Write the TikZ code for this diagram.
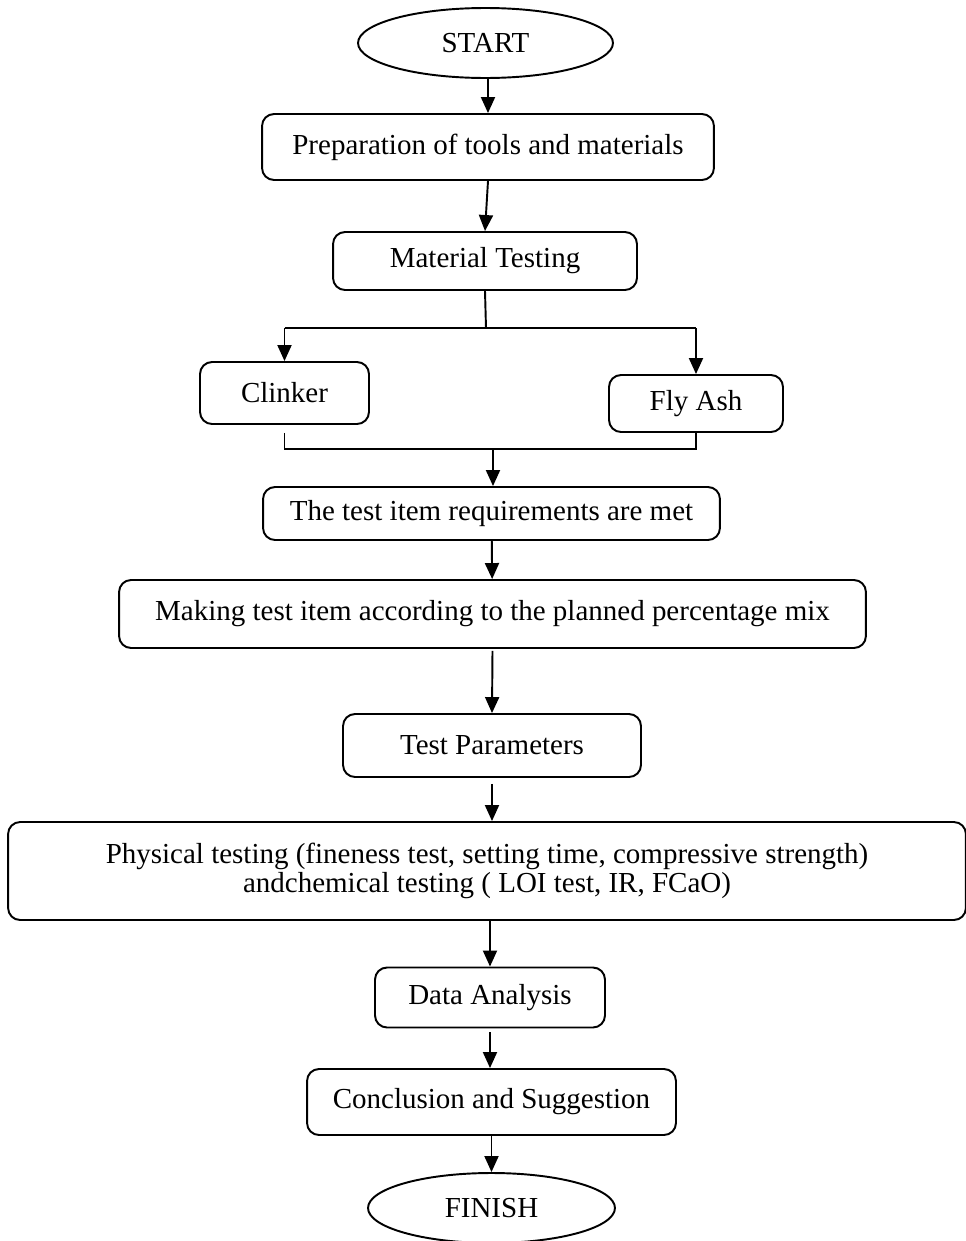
\documentclass[tikz,border=0pt]{standalone}
\usepackage{fontspec}
\setmainfont{Liberation Serif}
\usetikzlibrary{arrows.meta, positioning, shapes.geometric}

\begin{document}
\begin{tikzpicture}[x=0.02cm, y=-0.02cm,
    font=\fontsize{16.5}{19}\selectfont,
    blk/.style={draw, line width=1.1pt, rounded corners=0.24cm, inner sep=0pt, align=center},
    term/.style={draw, ellipse, line width=1.1pt, inner sep=0pt},
    arr/.style={line width=1.1pt, -{Triangle[width=0.28cm, length=0.32cm]}}]
    \useasboundingbox (0,0) rectangle (965,1241);

    \node[term, minimum width=5.1cm, minimum height=1.4cm] (start) at (485.5,43) {START};
    \node[blk, minimum width=9.04cm, minimum height=1.32cm] (prep) at (488,147) {Preparation of tools and materials};
    \node[blk, minimum width=6.08cm, minimum height=1.16cm] (mat) at (485,261) {Material Testing};
    \node[blk, minimum width=3.38cm, minimum height=1.24cm] (clinker) at (284.5,393) {Clinker};
    \node[blk, minimum width=3.48cm, minimum height=1.14cm] (flyash) at (696,403.5) {Fly Ash};
    \node[blk, minimum width=9.14cm, minimum height=1.06cm] (req) at (491.5,513.5) {The test item requirements are met};
    \node[blk, minimum width=14.94cm, minimum height=1.36cm] (mix) at (492.5,614) {Making test item according to the planned percentage mix};
    \node[blk, minimum width=5.96cm, minimum height=1.26cm] (param) at (492,745.5) {Test Parameters};
    \node[blk, minimum width=19.16cm, minimum height=1.96cm, font=\fontsize{16.5}{16.5}\selectfont] (phys) at (487,871)
        {Physical testing (fineness test, setting time, compressive strength)\\andchemical testing ( LOI test, IR, FCaO)};
    \node[blk, minimum width=4.6cm, minimum height=1.2cm] (data) at (490,997.5) {Data Analysis};
    \node[blk, minimum width=7.38cm, minimum height=1.32cm] (concl) at (491.5,1102) {Conclusion and Suggestion};
    \node[term, minimum width=4.94cm, minimum height=1.4cm] (finish) at (491.5,1208) {FINISH};

    \coordinate (split) at (486,328);
    \coordinate (merge) at (493,449);

    \draw[arr] (start.south -| prep.north) -- (prep.north);
    \draw[arr] (prep.south) -- (mat.north);
    \draw[line width=1.1pt] (mat.south) -- (split);
    \draw[line width=1.1pt] (clinker.north |- split) -- (flyash.north |- split);
    \draw[arr] (clinker.north |- split) -- (clinker.north);
    \draw[arr] (flyash.north |- split) -- (flyash.north);
    \draw[line width=1.1pt] ([yshift=-0.16cm]clinker.south) |- (merge) -| (flyash.south);
    \draw[arr] (merge) -- (req.north -| merge);
    \draw[arr] (req) -- (mix);
    \draw[arr] ([yshift=-0.04cm]mix.south) -- (param.north);
    \draw[arr] ([yshift=-0.12cm]param.south) -- (phys.north -| param.south);
    \draw[arr] (phys.south -| data.north) -- (data.north);
    \draw[arr] ([yshift=-0.08cm]data.south) -- (concl.north -| data.south);
    \draw[arr] (concl.south) -- (finish.north);
\end{tikzpicture}
\end{document}
